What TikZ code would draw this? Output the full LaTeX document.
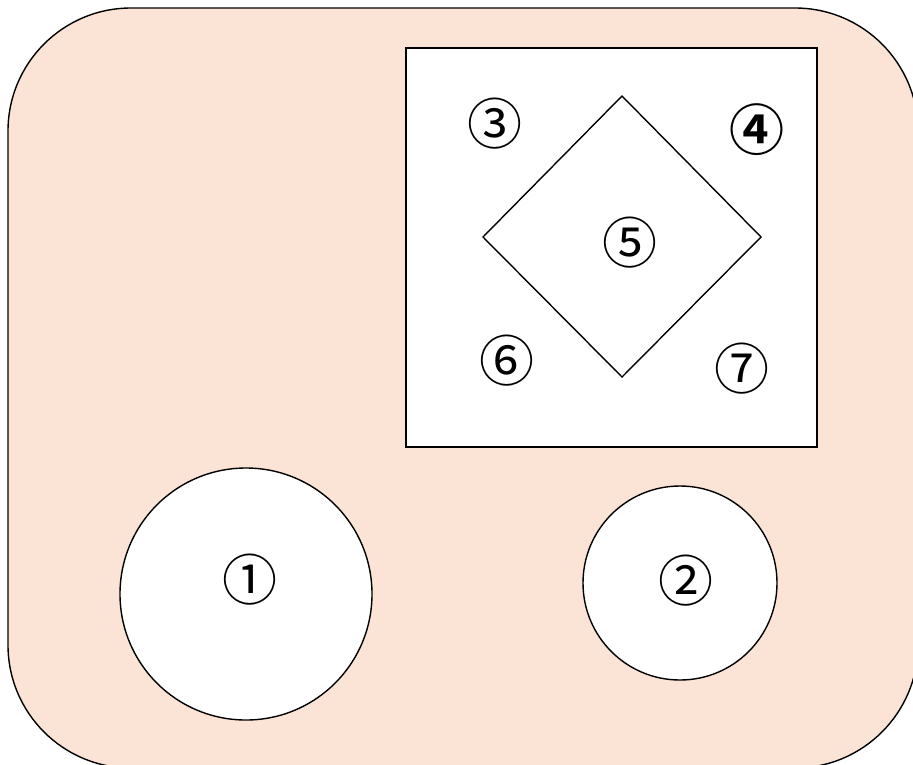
\documentclass[tikz,border=0pt]{standalone}
\usepackage{fontspec}
\newfontfamily\symfont{Noto Sans CJK JP}
\newfontfamily\symfontbold{Noto Sans CJK JP}[UprightFont=* Bold]
\definecolor{peach}{HTML}{FBE3D6}
\begin{document}
\begin{tikzpicture}[x=1pt,y=-1pt,
  outline/.style={draw=black,line width=1.4pt},
  num/.style={font=\symfont\fontsize{55}{55}\selectfont,inner sep=0pt}]
\useasboundingbox (0,0) rectangle (913,764);
\begin{scope}
\clip (0,0) rectangle (913,764);
\draw[outline,fill=peach,rounded corners=123pt] (8,8) rectangle (918,768);
\end{scope}
\node[outline,fill=white,minimum width=411pt,minimum height=399pt,inner sep=0pt] (sq) at (611.5,247.5) {};
\draw[outline,fill=white] (622,96) coordinate (dt) -- (761,237) coordinate (dr) -- (622,377) coordinate (db) -- (483,237) coordinate (dl) -- cycle;
\node[outline,fill=white,circle,minimum size=252pt,inner sep=0pt] (c1) at (246,594) {};
\node[outline,fill=white,circle,minimum size=194pt,inner sep=0pt] (c2) at (680,583) {};
\node[num] (n1) at (250,580) {①};
\node[num] (n2) at (686,581) {②};
\node[num] (n3) at (495,124) {③};
\node[num,font=\symfontbold\fontsize{55}{55}\selectfont] (n4) at (757,130) {④};
\node[num] (n5) at (630,243) {⑤};
\node[num] (n6) at (507,361) {⑥};
\node[num] (n7) at (742,369) {⑦};
\end{tikzpicture}
\end{document}
